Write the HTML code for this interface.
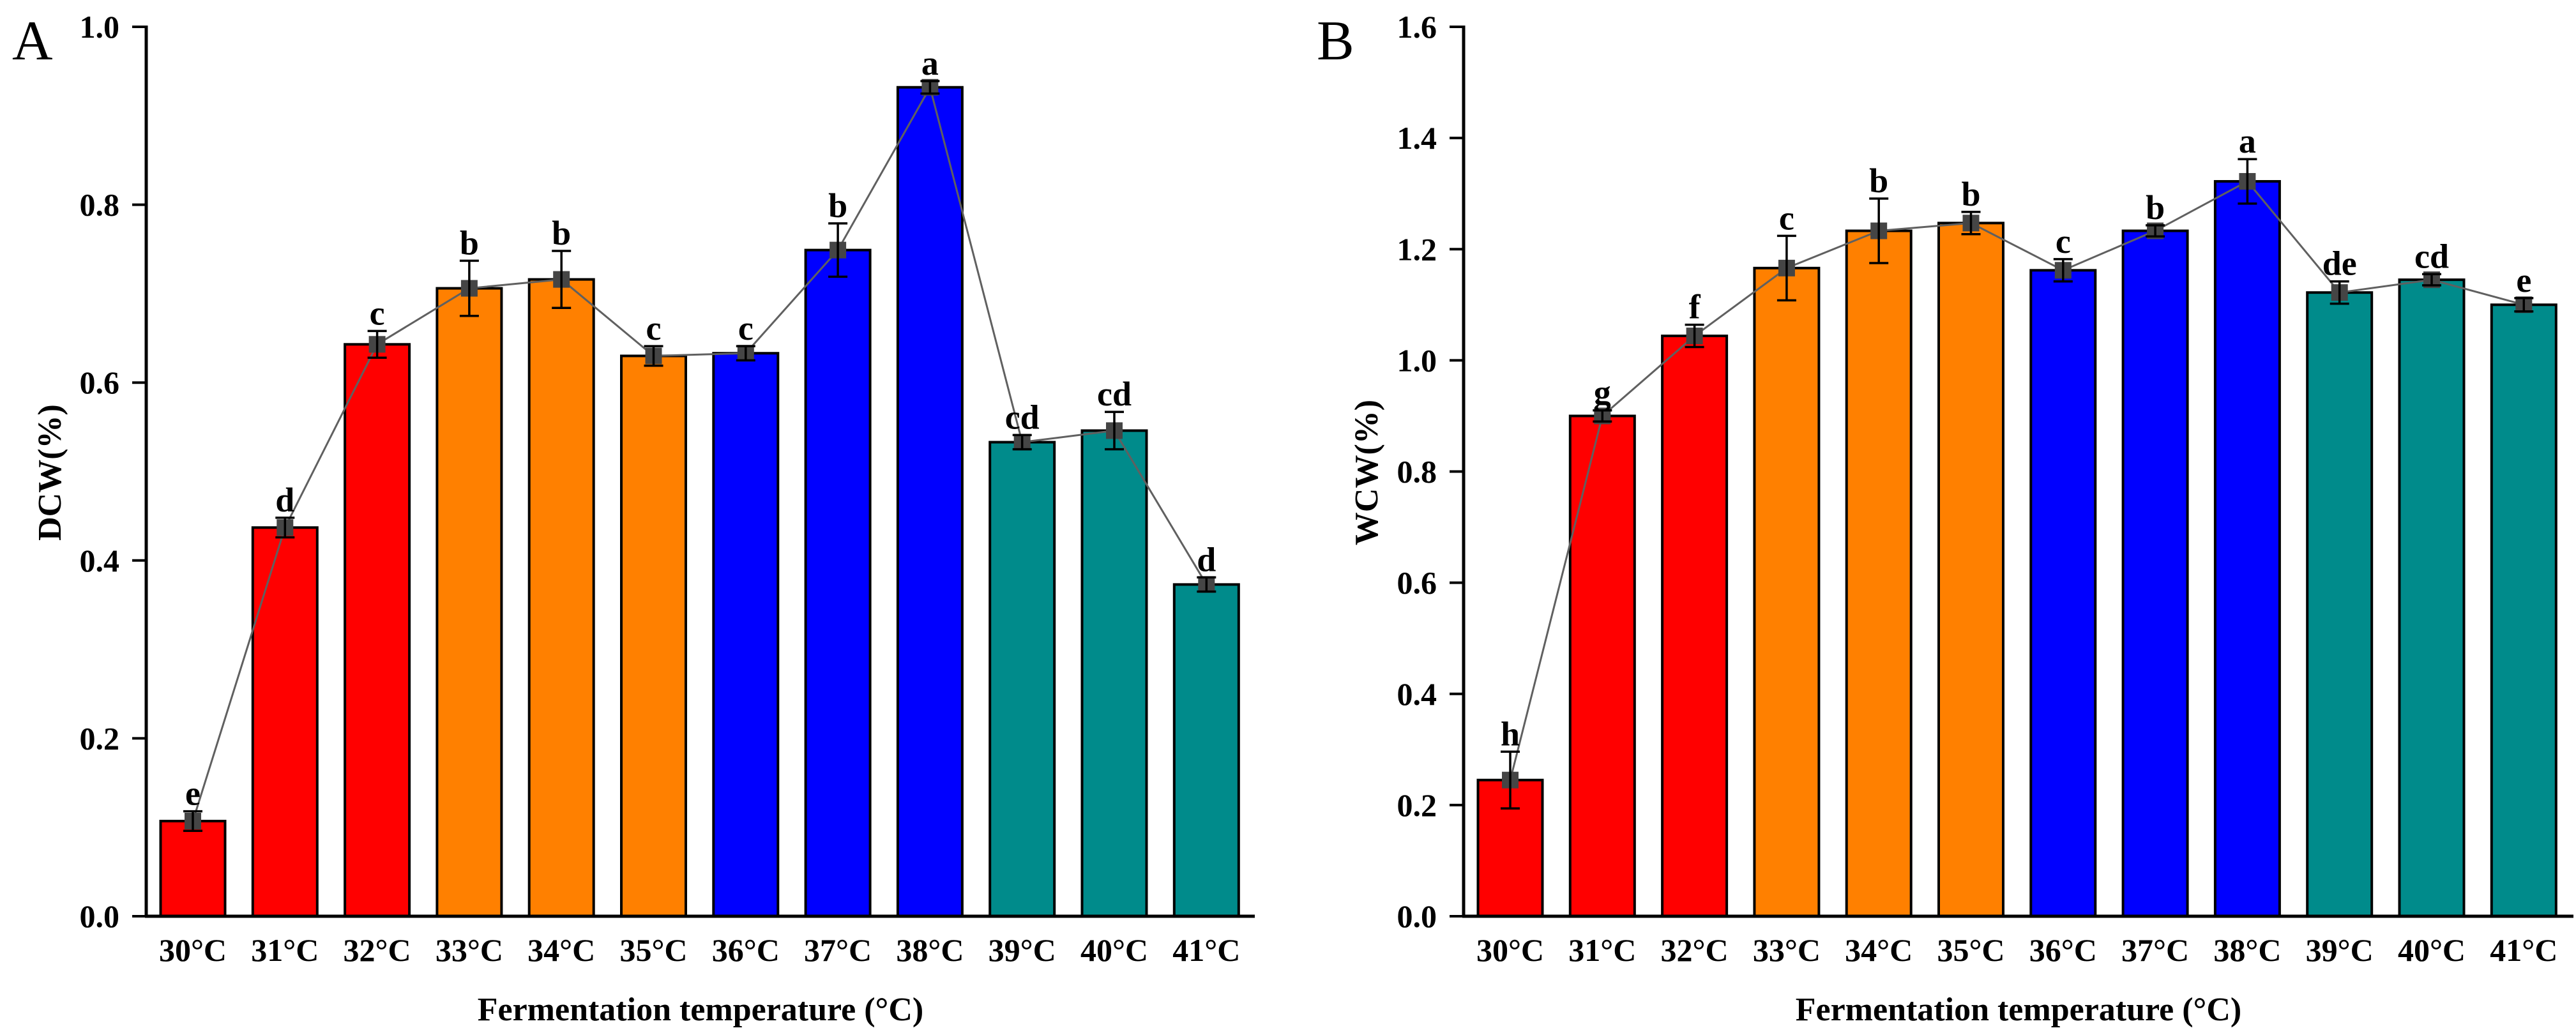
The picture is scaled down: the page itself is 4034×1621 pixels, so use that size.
<!DOCTYPE html>
<html><head><meta charset="utf-8"><style>
html,body{margin:0;padding:0;background:#fff;}
svg{display:block;font-family:"Liberation Serif",serif;}
</style></head><body>
<svg id="chart" width="4034" height="1621" viewBox="0 0 4034 1621" xmlns="http://www.w3.org/2000/svg">
<text x="19" y="93" font-size="88">A</text>
<text x="2062" y="93" font-size="88">B</text>
</svg>
<script>
const categories = ["30°C","31°C","32°C","33°C","34°C","35°C","36°C","37°C","38°C","39°C","40°C","41°C"];
const barColors = ["#ff0000","#ff0000","#ff0000","#ff8000","#ff8000","#ff8000","#0000ff","#0000ff","#0000ff","#008b8b","#008b8b","#008b8b"];
const dcwValues = [0.107,0.437,0.643,0.706,0.716,0.630,0.633,0.749,0.932,0.533,0.546,0.373];
const dcwErrors = [0.011,0.011,0.015,0.031,0.032,0.011,0.008,0.030,0.007,0.008,0.021,0.008];
const dcwLetters = ["e","d","c","b","b","c","c","b","a","cd","cd","d"];
const dcwTicks = [0.0,0.2,0.4,0.6,0.8,1.0];
const wcwValues = [0.245,0.900,1.044,1.166,1.233,1.247,1.162,1.233,1.322,1.122,1.145,1.100];
const wcwErrors = [0.051,0.010,0.020,0.058,0.058,0.020,0.020,0.010,0.040,0.020,0.010,0.012];
const wcwLetters = ["h","g","f","c","b","b","c","b","a","de","cd","e"];
const wcwTicks = [0.0,0.2,0.4,0.6,0.8,1.0,1.2,1.4,1.6];

const NS="http://www.w3.org/2000/svg";
const svg=document.getElementById('chart');
function mk(tag,attrs,parent){const e=document.createElementNS(NS,tag);for(const k in attrs)e.setAttribute(k,attrs[k]);(parent||svg).appendChild(e);return e;}

function drawPanel(p){
  const g=mk('g',{});
  
  
  const y0=1435, yTop=42;
  const yScale=v=>y0-(v/p.ymax)*(y0-yTop);
  const xScale=i=>p.firstX+i*144.3;
  // bars
  categories.forEach((c,i)=>{
    const bw=101;
    const r=mk('rect',{x:xScale(i)-bw/2,y:yScale(p.values[i]),width:bw,height:y0-yScale(p.values[i]),fill:barColors[i],stroke:'#000','stroke-width':4},g);
    
    
    const t=mk('text',{x:xScale(i),y:1505,'font-size':50,'font-weight':'bold','text-anchor':'middle'},g);
    t.textContent=c;
    
    
  });
  // axes
  const ax=mk('line',{x1:p.axisX,y1:yTop-2,x2:p.axisX,y2:y0+2,stroke:'#000','stroke-width':5},g);
  
  
  const bx=mk('line',{x1:p.axisX-2,y1:y0,x2:p.axisEnd,y2:y0,stroke:'#000','stroke-width':5},g);
  
  
  p.ticks.forEach(v=>{
    const y=yScale(v);
    const tk=mk('line',{x1:p.axisX-22,y1:y,x2:p.axisX,y2:y,stroke:'#000','stroke-width':4},g);
    
    
    const t=mk('text',{x:p.axisX-42,y:y+17,'font-size':50,'font-weight':'bold','text-anchor':'end'},g);
    t.textContent=v.toFixed(1);
    
    
  });
  // connecting line
  const pts=p.values.map((v,i)=>xScale(i)+','+yScale(v)).join(' ');
  const pl=mk('polyline',{points:pts,fill:'none',stroke:'#606060','stroke-width':3},g);
  
  
  p.values.forEach((v,i)=>{
    const x=xScale(i),yt=yScale(v+p.errors[i]),yb=yScale(v-p.errors[i]);
    const m=mk('rect',{x:x-13,y:yScale(v)-13,width:26,height:26,fill:'#454545'},g);
    
    
    const e=mk('path',{d:`M${x},${yt}V${yb}M${x-15},${yt}H${x+15}M${x-15},${yb}H${x+15}`,stroke:'#000','stroke-width':3.5,fill:'none'},g);
    
    
    const t=mk('text',{x:x,y:yt-10,'font-size':54,'font-weight':'bold','text-anchor':'middle'},g);
    t.textContent=p.letters[i];
    
    
  });
  const yt=mk('text',{x:0,y:0,'font-size':52,'font-weight':'bold','text-anchor':'middle',transform:`translate(${p.titleX},740) rotate(-90)`},g);
  yt.textContent=p.ytitle;
  
  
  const xt=mk('text',{x:(p.axisX+p.axisEnd)/2,y:1598,'font-size':52,'font-weight':'bold','text-anchor':'middle'},g);
  xt.textContent='Fermentation temperature (°C)';
  
  
}
drawPanel({name:'panel-a-dcw',values:dcwValues,errors:dcwErrors,letters:dcwLetters,ticks:dcwTicks,ymax:1.0,axisX:229,axisEnd:1965,firstX:302,titleX:95,ytitle:'DCW(%)'});
drawPanel({name:'panel-b-wcw',values:wcwValues,errors:wcwErrors,letters:wcwLetters,ticks:wcwTicks,ymax:1.6,axisX:2292,axisEnd:4030,firstX:2365,titleX:2157,ytitle:'WCW(%)'});
</script>
</body></html>
